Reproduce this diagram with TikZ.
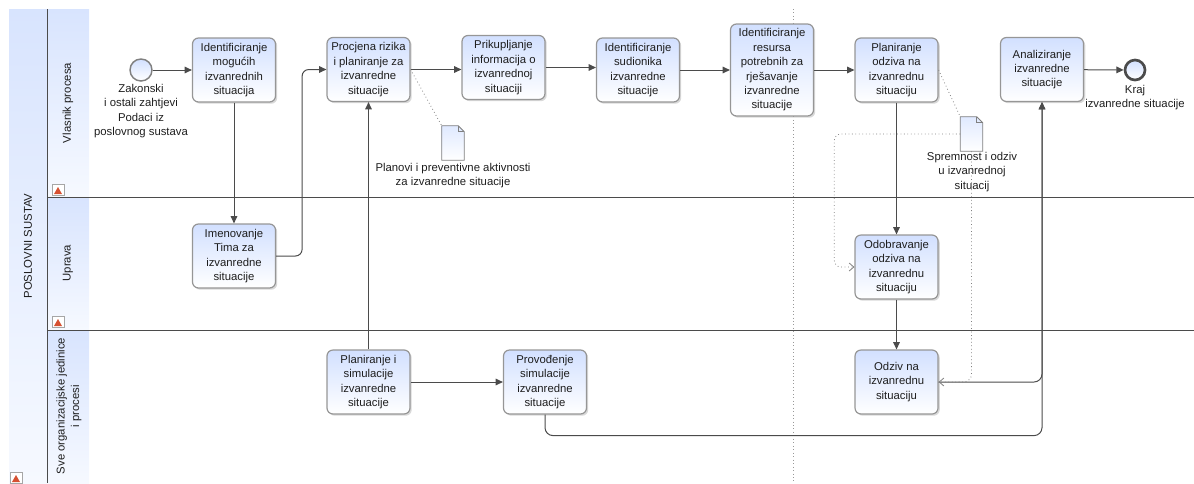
\documentclass[tikz,border=0pt]{standalone}
\usepackage{fontspec}
\setmainfont{Liberation Sans}
\usetikzlibrary{arrows.meta,shadows}
\definecolor{lblue}{RGB}{210,224,255}
\definecolor{stripblue}{RGB}{216,228,254}
\definecolor{stripwhite}{RGB}{246,249,255}
\definecolor{linec}{RGB}{75,75,75}
\definecolor{boxborder}{RGB}{150,150,150}
\definecolor{txt}{RGB}{30,30,30}
\definecolor{redtri}{RGB}{214,80,50}
\begin{document}
\begin{tikzpicture}[x=0.75pt,y=-0.75pt,
  font=\fontsize{8.5pt}{10.8pt}\selectfont, text=txt,
  task/.style={rectangle, rounded corners=4.5pt, draw=boxborder, line width=0.9pt,
    top color=lblue, bottom color=white, minimum width=62.25pt, minimum height=48pt,
    align=center, inner sep=1pt,
    drop shadow={shadow xshift=1.3pt, shadow yshift=-1.3pt, opacity=0.3}},
  tallTask/.style={task, minimum height=69pt},
  startev/.style={circle, draw=gray, line width=1.1pt, top color=lblue, bottom color=white,
    minimum size=16.5pt, inner sep=0pt},
  endev/.style={circle, draw=linec, line width=2pt, top color=lblue, bottom color=white,
    minimum size=15pt, inner sep=0pt},
  flow/.style={draw=linec, line width=0.75pt, -{Triangle[length=5.5pt,width=5pt]}},
  assoc/.style={draw=gray, dotted, line width=0.6pt},
  assocarrow/.style={assoc, -{Straight Barb[length=3.5pt,width=6pt]}},
  lbl/.style={align=center, inner sep=0pt},
  docnode/.style={minimum width=16.5pt, minimum height=25.5pt, inner sep=0pt, draw=none},
  lanelbl/.style={rotate=90, align=center, inner sep=0pt},
  laneline/.style={draw=linec, line width=0.75pt}
]
\useasboundingbox (0,0) rectangle (1194,483);

% pool and lane strips
\shade[top color=stripblue, bottom color=stripwhite] (9,9) rectangle (47,483);
\shade[top color=stripblue, bottom color=stripwhite] (47,9) rectangle (89,197);
\shade[top color=stripblue, bottom color=stripwhite] (47,197) rectangle (89,330);
\shade[top color=stripblue, bottom color=stripwhite] (47,330) rectangle (89,483);
\draw[laneline] (47,9) -- (47,483);
\draw[laneline] (47,197) -- (1194,197);
\draw[laneline] (47,330) -- (1194,330);

\node[lanelbl] (pool) at (28,246) {POSLOVNI SUSTAV};
\node[lanelbl] (l1) at (68,103) {Vlasnik procesa};
\node[lanelbl] (l2) at (68,263) {Uprava};
\node[lanelbl] (l3) at (69,406) {Sve organizacijske jedinice\\i procesi};

% collapse icons
\foreach \x/\y in {52/184, 52/316, 10/472}{
  \draw[draw=gray!70, fill=white] (\x,\y) rectangle ++(12,11);
  \fill[redtri] (\x+2,\y+10) -- (\x+10,\y+10) -- (\x+6,\y+3) -- cycle;
}

% milestone separator
\draw[draw=gray!80, dotted, line width=0.6pt] (793,9) -- (793,483);

% events
\node[startev] (start) at (141,70) {};
\node[lbl, anchor=north] (startl) at (141,84) {Zakonski\\i ostali zahtjevi\\Podaci iz\\poslovnog sustava};
\node[endev] (end) at (1135,70) {};
\node[lbl, anchor=north] (endl) at (1135,85) {Kraj\\izvanredne situacije};

% tasks
\node[task] (b1) at (234,70) {Identificiranje\\mogućih\\izvanrednih\\situacija};
\node[task] (b2) at (234,256) {Imenovanje\\Tima za\\izvanredne\\situacije};
\node[task] (b3) at (368.5,69.5) {Procjena rizika\\i planiranje za\\izvanredne\\situacije};
\node[task] (b4) at (503.5,67.5) {Prikupljanje\\informacija o\\izvanrednoj\\situaciji};
\node[task] (b5) at (638,70) {Identificiranje\\sudionika\\izvanredne\\situacije};
\node[tallTask] (b6) at (772,70) {Identificiranje\\resursa\\potrebnih za\\rješavanje\\izvanredne\\situacije};
\node[task] (b7) at (896.5,70) {Planiranje\\odziva na\\izvanrednu\\situaciju};
\node[task] (b8) at (1042,69.5) {Analiziranje\\izvanredne\\situacije};
\node[task] (b9) at (896.5,267) {Odobravanje\\odziva na\\izvanrednu\\situaciju};
\node[task] (b10) at (896.5,382) {Odziv na\\izvanrednu\\situaciju};
\node[task] (b11) at (368.5,382) {Planiranje i\\simulacije\\izvanredne\\situacije};
\node[task] (b12) at (545,382) {Provođenje\\simulacije\\izvanredne\\situacije};

% documents
\node[docnode] (d1) at (453,143) {};
\node[docnode] (d2) at (971.5,134) {};
\foreach \d in {d1,d2}{
  \shade[top color=lblue!70, bottom color=white, draw=gray, line width=0.6pt]
    (\d.north west) -- ([xshift=-4.5pt]\d.north east) -- ([yshift=-4.5pt]\d.north east)
    -- (\d.south east) -- (\d.south west) -- cycle;
  \draw[draw=gray, line width=0.6pt] ([xshift=-4.5pt]\d.north east) |- ([yshift=-4.5pt]\d.north east);
}
\node[lbl, anchor=north] (d1l) at (453,163) {Planovi i preventivne aktivnosti\\za izvanredne situacije};
\node[lbl, anchor=north] (d2l) at (972,152) {Spremnost i odziv\\u izvanrednoj\\situacij};

% sequence flows
\draw[flow] (start) -- (b1);
\draw[flow] (b1) -- (b2);
\draw[flow, rounded corners=5pt] (b2.east) -- ++(26,0) |- (b3.west);
\draw[flow] (b11) -- (b3);
\draw[flow] (b11) -- (b12);
\draw[flow] (b3.east) -- (b3.east -| b4.west);
\draw[flow] (b4.east) -- (b4.east -| b5.west);
\draw[flow] (b5) -- (b6);
\draw[flow] (b6) -- (b7);
\draw[flow] (b7) -- (b9);
\draw[flow] (b9) -- (b10);
\draw[flow, rounded corners=6pt] (b10.east) -| (b8.south);
\draw[flow, rounded corners=6pt] (b12.south) -- ++(0,21) -| (b8.south);
\draw[flow] (b8) -- (end);

% associations
\draw[assoc] (b3.east) -- (d1.north west);
\draw[assoc] (b7.east) -- (d2.north west);
\draw[assocarrow, rounded corners=5pt] (d2.west) -- ++(-126,0) |- (b9.west);
\draw[assocarrow, rounded corners=6pt] (d2.south) |- (b10.east);
\end{tikzpicture}
\end{document}
